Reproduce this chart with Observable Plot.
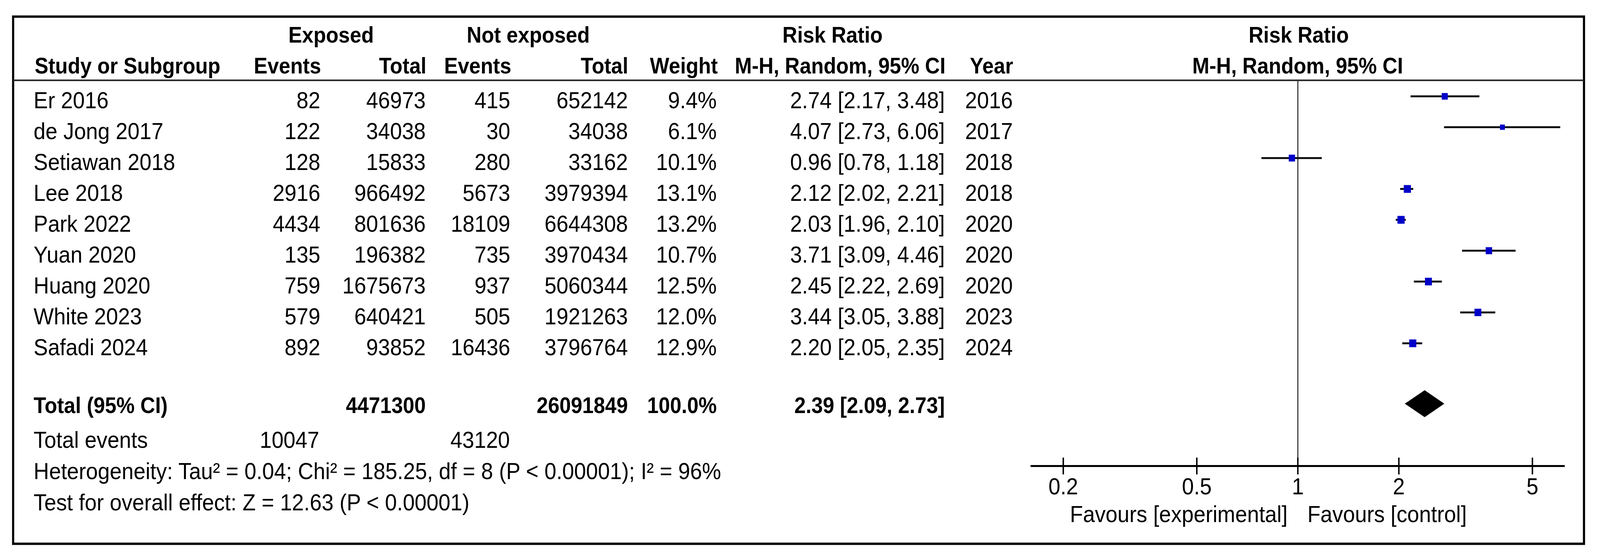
<!DOCTYPE html>
<html>
<head>
<meta charset="utf-8">
<script src="https://cdn.jsdelivr.net/npm/d3@7"></script>
<script src="https://cdn.jsdelivr.net/npm/@observablehq/plot@0.6"></script>
<style>
  html, body { margin: 0; padding: 0; background: #fff; overflow: hidden; }
  #chart svg { display: block; }
</style>
</head>
<body>
<div id="chart"></div>
<script>
// ---------------- data ----------------
const studies   = ["Er 2016", "de Jong 2017", "Setiawan 2018", "Lee 2018", "Park 2022", "Yuan 2020", "Huang 2020", "White 2023", "Safadi 2024"];
const expEvents = [82, 122, 128, 2916, 4434, 135, 759, 579, 892];
const expTotal  = [46973, 34038, 15833, 966492, 801636, 196382, 1675673, 640421, 93852];
const ctlEvents = [415, 30, 280, 5673, 18109, 735, 937, 505, 16436];
const ctlTotal  = [652142, 34038, 33162, 3979394, 6644308, 3970434, 5060344, 1921263, 3796764];
const weights   = [9.4, 6.1, 10.1, 13.1, 13.2, 10.7, 12.5, 12.0, 12.9];
const rr        = [2.74, 4.07, 0.96, 2.12, 2.03, 3.71, 2.45, 3.44, 2.20];
const rrLo      = [2.17, 2.73, 0.78, 2.02, 1.96, 3.09, 2.22, 3.05, 2.05];
const rrHi      = [3.48, 6.06, 1.18, 2.21, 2.10, 4.46, 2.69, 3.88, 2.35];
const years     = [2016, 2017, 2018, 2018, 2020, 2020, 2020, 2023, 2024];

const totalLabel    = "Total (95% CI)";
const totalExpN     = 4471300;
const totalCtlN     = 26091849;
const totalWeight   = 100.0;
const totalRR       = [2.39, 2.09, 2.73]; // estimate, lower, upper
const totalEventsLabel = "Total events";
const totalEvents   = [10047, 43120];
const heterogeneity = "Heterogeneity: Tau² = 0.04; Chi² = 185.25, df = 8 (P < 0.00001); I² = 96%";
const overallEffect = "Test for overall effect: Z = 12.63 (P < 0.00001)";

const groupHeads  = ["Exposed", "Not exposed", "Risk Ratio", "Risk Ratio"];
const columnHeads = ["Study or Subgroup", "Events", "Total", "Events", "Total", "Weight", "M-H, Random, 95% CI", "Year", "M-H, Random, 95% CI"];
const xTicks      = [0.2, 0.5, 1, 2, 5];
const favours     = ["Favours [experimental]", "Favours [control]"];

// ---------------- layout (pixels) ----------------
const L = {
  width: 4448, height: 1433,
  m: {top: 42, right: 45, bottom: 42, left: 36},
  rowFirst: 246, rowStep: 79, textDy: 30,
  font: "'Liberation Sans', Arial, Helvetica, sans-serif",
  fs: 59.5, fsBold: 57,
  xRange: [2865, 4350], xDomain: [0.16, 6.25],
  study: 93, expEv: 890, expN: 1183, ctlEv: 1418, ctlN: 1745, weight: 1992, rrText: 2626, year: 2815,
  groupX: [920, 1468, 2314, 3610], groupBase: 108,
  headX: [96, 892, 1185, 1421, 1746, 1995, 2628, 2816, 3607],
  headAnchor: ["start", "end", "end", "end", "end", "end", "end", "end", "middle"],
  headBase: 187,
  sepY: 205,
  totalBase: 1056, diamondY: 1033, diamondHalf: 34,
  totalEvBase: 1145, totalEvX: [887, 1417],
  hetBase: 1225, overallBase: 1305,
  axisY: 1192, tickTop: 1171, tickBottom: 1214, tickLabelBase: 1264,
  favoursBase: 1335, favoursX: [3579, 3634],
  blue: "#0000C8"
};
const rowAt = px => (px - L.rowFirst) / L.rowStep; // pixel -> row units of the y scale

const rows = studies.map((s, i) => ({
  row: i, study: s,
  expEvents: expEvents[i], expTotal: expTotal[i],
  ctlEvents: ctlEvents[i], ctlTotal: ctlTotal[i],
  weight: weights[i], rr: rr[i], lo: rrLo[i], hi: rrHi[i], year: years[i]
}));
const f2 = v => v.toFixed(2);
const ciText = (e, l, h) => `${f2(e)} [${f2(l)}, ${f2(h)}]`;

const base = {fontFamily: L.font, fontSize: L.fs, fill: "#000", lineAnchor: "bottom"};
const bold = {...base, fontSize: L.fsBold, fontWeight: "bold"};

function label(text, x, yBase, anchor, style) {
  return Plot.text([text], {
    ...style, text: d => String(d), frameAnchor: "top-left",
    dx: x - L.m.left, dy: yBase - L.m.top, textAnchor: anchor
  });
}
function column(value, x, anchor, style = base) {
  const f = typeof value === "function" ? value : d => String(d[value]);
  return Plot.text(rows, {
    ...style, y: "row", text: f, frameAnchor: "left",
    dx: x - L.m.left, dy: L.textDy, textAnchor: anchor
  });
}

const c = rowAt(L.diamondY), h = L.diamondHalf / L.rowStep;
const diamond = [
  {x: totalRR[1], y1: c, y2: c},
  {x: totalRR[0], y1: c - h, y2: c + h},
  {x: totalRR[2], y1: c, y2: c}
];

const marks = [
  Plot.frame({stroke: "#000", strokeWidth: 6}),
  Plot.ruleY([rowAt(L.sepY)], {stroke: "#222", strokeWidth: 4}),
  Plot.ruleX([1], {y1: rowAt(L.sepY), y2: rowAt(L.axisY), stroke: "#333", strokeWidth: 3}),
  ...groupHeads.map((t, i) => label(t, L.groupX[i], L.groupBase, "middle", bold)),
  ...columnHeads.map((t, i) => label(t, L.headX[i], L.headBase, L.headAnchor[i], bold)),
  column("study", L.study, "start"),
  column("expEvents", L.expEv, "end"),
  column("expTotal", L.expN, "end"),
  column("ctlEvents", L.ctlEv, "end"),
  column("ctlTotal", L.ctlN, "end"),
  column(d => `${d.weight.toFixed(1)}%`, L.weight, "end"),
  column(d => ciText(d.rr, d.lo, d.hi), L.rrText, "end"),
  column("year", L.year, "end"),
  Plot.ruleY(rows, {y: "row", x1: "lo", x2: "hi", stroke: "#111", strokeWidth: 5}),
  Plot.dot(rows, {x: "rr", y: "row", r: "weight", symbol: "square", fill: L.blue}),
  label(totalLabel, L.study, L.totalBase, "start", bold),
  label(totalExpN, L.expN, L.totalBase, "end", bold),
  label(totalCtlN, L.ctlN, L.totalBase, "end", bold),
  label(`${totalWeight.toFixed(1)}%`, L.weight, L.totalBase, "end", bold),
  label(ciText(...totalRR), L.rrText, L.totalBase, "end", bold),
  Plot.areaY(diamond, {x: "x", y1: "y1", y2: "y2", fill: "#000", stroke: "#000", strokeWidth: 1}),
  label(totalEventsLabel, L.study, L.totalEvBase, "start", base),
  ...totalEvents.map((v, i) => label(v, L.totalEvX[i], L.totalEvBase, "end", base)),
  label(heterogeneity, L.study, L.hetBase, "start", base),
  label(overallEffect, L.study, L.overallBase, "start", base),
  Plot.ruleY([rowAt(L.axisY)], {x1: L.xDomain[0], x2: L.xDomain[1], stroke: "#000", strokeWidth: 5}),
  Plot.ruleX(xTicks, {x: d => d, y1: rowAt(L.tickTop), y2: rowAt(L.tickBottom), stroke: "#000", strokeWidth: 4}),
  Plot.text(xTicks, {...base, x: d => d, y: rowAt(L.tickLabelBase), text: d => String(d), textAnchor: "middle"}),
  label(favours[0], L.favoursX[0], L.favoursBase, "end", base),
  label(favours[1], L.favoursX[1], L.favoursBase, "start", base)
];

const chart = Plot.plot({
  width: L.width, height: L.height,
  marginTop: L.m.top, marginRight: L.m.right, marginBottom: L.m.bottom, marginLeft: L.m.left,
  style: {background: "#fff", fontFamily: L.font},
  x: {type: "log", domain: L.xDomain, range: L.xRange, axis: null},
  y: {type: "linear", domain: [0, studies.length - 1], range: [L.rowFirst, L.rowFirst + L.rowStep * (studies.length - 1)], axis: null},
  r: {type: "sqrt", domain: [0, d3.max(weights)], range: [0, 20 / Math.sqrt(Math.PI)]},
  marks
});
// fill the whole browser viewport with the 4448x1433 drawing
chart.setAttribute("preserveAspectRatio", "none");
chart.style.width = "100vw";
chart.style.height = "100vh";
chart.style.maxWidth = "none";
document.getElementById("chart").append(chart);
</script>
</body>
</html>
